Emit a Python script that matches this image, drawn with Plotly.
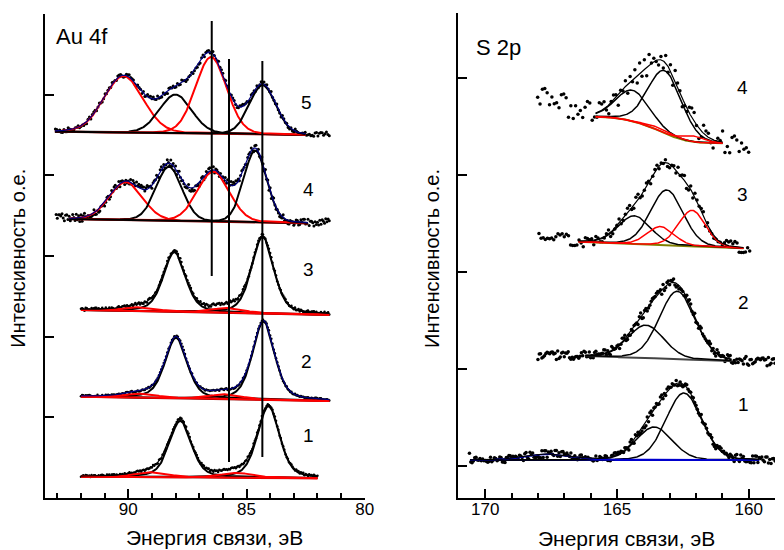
import numpy as np
import plotly.graph_objects as go

W, H = 784, 550

# hand-typed residual pattern used for the scatter of the measured points
RESID = [0.3, -0.7, 0.9, -0.2, 0.5, -0.9, 0.1, 0.6, -0.4, 0.8, -0.6, 0.2, -1.0, 0.7, -0.3, 0.4,
         -0.8, 0.95, -0.1, 0.35, -0.55, 0.75, -0.25, 0.15, -0.85, 0.65, -0.45, 0.05, 0.85, -0.65,
         0.45, -0.15, 0.25, -0.75, 0.55, -0.35, 0.9, -0.05, -0.95, 0.6, -0.5, 0.2, 0.7, -0.3, 0.1,
         -0.7, 0.4, -0.9, 0.8, -0.2, 0.3, 0.5, -0.6, -0.1, 0.95, -0.4, 0.65, -0.8, 0.15, 0.45,
         -0.25, 0.75, -0.65, 0.35, -0.45, 0.05, 0.85, -0.15, -0.55, 0.55, -0.85, 0.25, -0.35, 0.7,
         -0.05, 0.5, -0.75, 0.9, -0.5, 0.3]

# ---------------- Au 4f (left panel) ----------------
AU_LABELS = ["1", "2", "3", "4", "5"]
AU_LABEL_E = [82.38, 82.47, 82.38, 82.38, 82.45]
AU_LABEL_Y = [0.78, 1.69, 2.83, 3.83, 4.90]
AU_FIT_LO = [82.0, 81.5, 81.5, 82.4, 82.5]
AU_FIT_HI = [92.0, 92.0, 92.0, 92.5, 93.1]
AU_DOT_LO = [82.0, 81.5, 81.5, 81.5, 81.5]
AU_DOT_HI = [92.0, 92.0, 92.0, 93.05, 93.1]
AU_BASE_LO = [0.244, 1.202, 2.27, 3.405, 4.50]
AU_BASE_HI = [0.264, 1.256, 2.33, 3.459, 4.541]
AU_DOT_LO_LEVEL = [0.244, 1.202, 2.27, 3.41, 4.50]
AU_DOT_HI_LEVEL = [0.264, 1.256, 2.33, 3.50, 4.541]
AU_PEAK_E = [[84.07, 87.80, 89.0, 85.4],
             [84.28, 87.98, 89.45, 85.9],
             [84.32, 88.05, 89.5, 85.8],
             [90.1, 88.28, 86.4, 84.63],
             [90.2, 88.0, 86.5, 84.32]]
AU_PEAK_H = [[0.89, 0.70, 0.06, 0.06],
             [0.97, 0.75, 0.05, 0.06],
             [0.95, 0.74, 0.05, 0.06],
             [0.47, 0.67, 0.62, 0.89],
             [0.70, 0.48, 0.95, 0.61]]
AU_PEAK_W = [[1.1, 1.1, 1.6, 1.6],
             [1.1, 1.1, 1.6, 1.6],
             [1.1, 1.1, 1.6, 1.6],
             [1.65, 1.3, 1.6, 1.15],
             [1.95, 1.6, 1.55, 1.33]]
AU_PEAK_C = [["black", "black", "red", "red"],
             ["black", "black", "red", "red"],
             ["black", "black", "red", "red"],
             ["red", "black", "red", "black"],
             ["red", "black", "red", "black"]]
AU_ETA = [0.4, 0.4, 0.4, 0.1, 0.1]
AU_ENV_COLOR = ["black", "#000080", "black", "#000080", "#000080"]
AU_NOISE = [0.015, 0.012, 0.02, 0.05, 0.03]
AU_STEP = [0.05, 0.05, 0.05, 0.05, 0.06]
AU_VLINE_E = [86.47, 85.74, 84.33]
AU_VLINE_TOP = [5.913, 5.442, 5.417]
AU_VLINE_BOT = [2.752, 0.446, 0.508]

# ---------------- S 2p (right panel) ----------------
S_LABELS = ["1", "2", "3", "4"]
S_LABEL_E = [160.21, 160.21, 160.25, 160.23]
S_LABEL_Y = [0.969, 2.02, 3.134, 4.227]
S_FIT_LO = [159.6, 160.65, 160.2, 160.99]
S_FIT_HI = [170.58, 166.2, 166.46, 165.81]
S_DOT_LO = [158.9, 158.9, 159.96, 160.0]
S_DOT_HI = [170.6, 168.0, 168.0, 168.07]
S_BASE_LO = [0.392, 1.412, 2.574, 3.657]
S_BASE_HI = [0.392, 1.464, 2.642, 3.931]
S_DOT_LO_LEVEL = [0.36, 1.40, 2.56, 3.62]
S_DOT_HI_LEVEL = [0.45, 1.47, 2.70, 4.17]
S_BASE_KIND = ["linear", "linear", "linear", "shirley"]
S_BASE_COLOR = ["#0000CD", "#444444", "#808000", "#808000"]
S_PEAK_E = [[162.46, 163.59, 167.6],
            [162.71, 163.9],
            [163.11, 164.34, 163.34, 162.15],
            [163.18, 164.4, 163.3, 162.09]]
S_PEAK_H = [[0.69, 0.34, 0.06],
            [0.70, 0.34],
            [0.57, 0.29, 0.19, 0.37],
            [0.645, 0.32, 0.03, 0.06]]
S_PEAK_W = [[1.6, 1.6, 2.0],
            [1.6, 1.6],
            [1.45, 1.45, 1.2, 1.2],
            [1.5, 1.5, 1.2, 1.0]]
S_PEAK_C = [["black", "black", "#0000CD"],
            ["black", "black"],
            ["black", "black", "red", "red"],
            ["black", "black", "red", "red"]]
S_NOISE = [0.04, 0.045, 0.06, 0.12]
S_STEP = [0.05, 0.05, 0.08, 0.09]

STRIDES = [3, 7, 11, 13, 17, 19, 21, 23, 27]


def pv(e, c, h, w, eta):
    g = np.exp(-4 * np.log(2) * (e - c) ** 2 / w ** 2)
    l = 1.0 / (1.0 + 4 * (e - c) ** 2 / w ** 2)
    return h * (eta * l + (1 - eta) * g)


def residual(n, k):
    s = STRIDES[k % len(STRIDES)]
    return np.array([RESID[(i * s + 5 * k) % len(RESID)] for i in range(n)])


fig = go.Figure()


def add_spectrum(xa, ya, fit_lo, fit_hi, dot_lo, dot_hi, b_lo, b_hi, lvl_lo, lvl_hi,
                 pe, ph, pw, pc, eta, env_color, noise, step, k, kind, base_color,
                 comp_w, dot_size):
    ef = np.linspace(fit_lo, fit_hi, 400)
    comps = [pv(ef, c, h, w, eta) for c, h, w in zip(pe, ph, pw)]
    total = np.sum(comps, axis=0)
    if kind == "shirley":
        cum = np.concatenate([[0], np.cumsum((total[1:] + total[:-1]) / 2 * np.diff(ef))])
        base = b_lo + (b_hi - b_lo) * cum / cum[-1]
    else:
        base = b_lo + (b_hi - b_lo) * (ef - fit_lo) / (fit_hi - fit_lo)
    ed = np.arange(dot_lo, dot_hi + 1e-9, step)
    comps_d = [pv(ed, c, h, w, eta) for c, h, w in zip(pe, ph, pw)]
    bx = [dot_lo - 1e-6] + list(ef) + [dot_hi + 1e-6]
    by = [lvl_lo] + list(base) + [lvl_hi]
    base_d = np.interp(ed, bx, by)
    yd = base_d + np.sum(comps_d, axis=0) + noise * residual(len(ed), k)
    fig.add_trace(go.Scatter(x=ed, y=yd, mode="markers", xaxis=xa, yaxis=ya,
                             marker=dict(color="black", size=dot_size), showlegend=False,
                             hoverinfo="skip"))
    fig.add_trace(go.Scatter(x=ef, y=base, mode="lines", xaxis=xa, yaxis=ya,
                             line=dict(color=base_color, width=2), showlegend=False,
                             hoverinfo="skip"))
    for comp, col in zip(comps, pc):
        fig.add_trace(go.Scatter(x=ef, y=base + comp, mode="lines", xaxis=xa, yaxis=ya,
                                 line=dict(color=col, width=comp_w), showlegend=False,
                                 hoverinfo="skip"))
    fig.add_trace(go.Scatter(x=ef, y=base + total, mode="lines", xaxis=xa, yaxis=ya,
                             line=dict(color=env_color, width=1.2), showlegend=False,
                             hoverinfo="skip"))


for i in range(5):
    add_spectrum("x", "y", AU_FIT_LO[i], AU_FIT_HI[i], AU_DOT_LO[i], AU_DOT_HI[i],
                 AU_BASE_LO[i], AU_BASE_HI[i], AU_DOT_LO_LEVEL[i], AU_DOT_HI_LEVEL[i],
                 AU_PEAK_E[i], AU_PEAK_H[i], AU_PEAK_W[i], AU_PEAK_C[i], AU_ETA[i],
                 AU_ENV_COLOR[i], AU_NOISE[i], AU_STEP[i], i,
                 "linear", "#8B0000", 2, 2.5 if i < 3 else 3)

for i in range(4):
    add_spectrum("x2", "y2", S_FIT_LO[i], S_FIT_HI[i], S_DOT_LO[i], S_DOT_HI[i],
                 S_BASE_LO[i], S_BASE_HI[i], S_DOT_LO_LEVEL[i], S_DOT_HI_LEVEL[i],
                 S_PEAK_E[i], S_PEAK_H[i], S_PEAK_W[i], S_PEAK_C[i], 0.1, "black",
                 S_NOISE[i], S_STEP[i], i + 5, S_BASE_KIND[i], S_BASE_COLOR[i], 1.5, 3.5)

for e, t, b in zip(AU_VLINE_E, AU_VLINE_TOP, AU_VLINE_BOT):
    fig.add_trace(go.Scatter(x=[e, e], y=[b, t], mode="lines", xaxis="x", yaxis="y",
                             line=dict(color="black", width=2), showlegend=False,
                             hoverinfo="skip"))

FONT = "Liberation Sans, Arial, sans-serif"


def txt(size):
    return dict(size=size, color="black", family=FONT)


ann = []
for lab, e, y in zip(AU_LABELS, AU_LABEL_E, AU_LABEL_Y):
    ann.append(dict(x=e, y=y, xref="x", yref="y", text=lab, showarrow=False,
                    xanchor="center", yanchor="middle", font=txt(19)))
for lab, e, y in zip(S_LABELS, S_LABEL_E, S_LABEL_Y):
    ann.append(dict(x=e, y=y, xref="x2", yref="y2", text=lab, showarrow=False,
                    xanchor="center", yanchor="middle", font=txt(19)))


def px(x):
    return x / W


def py(y):
    return (H - y) / H


def pann(x, y, text, size, angle=0):
    return dict(x=px(x), y=py(y), xref="paper", yref="paper", text=text, showarrow=False,
                xanchor="center", yanchor="middle", textangle=angle, font=txt(size))


ann += [
    pann(83, 37, "Au 4f", 22),
    pann(504, 47, "S 2p", 22),
    pann(18, 258, "Интенсивность о.е.", 20, -90),
    pann(437, 258, "Интенсивность о.е.", 20, -90),
    pann(217, 537, "Энергия связи, эВ", 21),
    pann(634, 538, "Энергия связи, эВ", 21),
]

xcommon = dict(showgrid=False, zeroline=False, showline=True, linecolor="black", linewidth=2,
               ticks="inside", ticklen=9, tickwidth=2, tickcolor="black", dtick=5, tick0=0,
               tickfont=txt(17), ticklabelstandoff=-5,
               minor=dict(ticks="inside", ticklen=5, tickwidth=1.5, tickcolor="black", dtick=1,
                          tick0=0, showgrid=False))
ycommon = dict(showgrid=False, zeroline=False, showline=True, linecolor="black", linewidth=2,
               ticks="inside", ticklen=9, tickwidth=2, tickcolor="black", showticklabels=False)

fig.update_layout(
    width=W, height=H, margin=dict(l=0, r=0, t=0, b=0),
    paper_bgcolor="white", plot_bgcolor="white",
    xaxis=dict(domain=[px(46), px(369)], range=[93.5, 80], anchor="y", **xcommon),
    yaxis=dict(domain=[py(498), py(14)], range=[0, 6], tickmode="array",
               tickvals=[1, 2, 3, 4, 5, 6], anchor="x", **ycommon),
    xaxis2=dict(domain=[px(463.7), 1.0], range=[171.02, 159.0], anchor="y2", **xcommon),
    yaxis2=dict(domain=[py(498), py(13)], range=[0, 5], tickmode="array",
                tickvals=[1 / 3, 4 / 3, 7 / 3, 10 / 3, 13 / 3], anchor="x2", **ycommon),
    annotations=ann,
)

fig.write_html("out.html", config={"displayModeBar": False},
               post_script="document.body.style.margin='0px';")
